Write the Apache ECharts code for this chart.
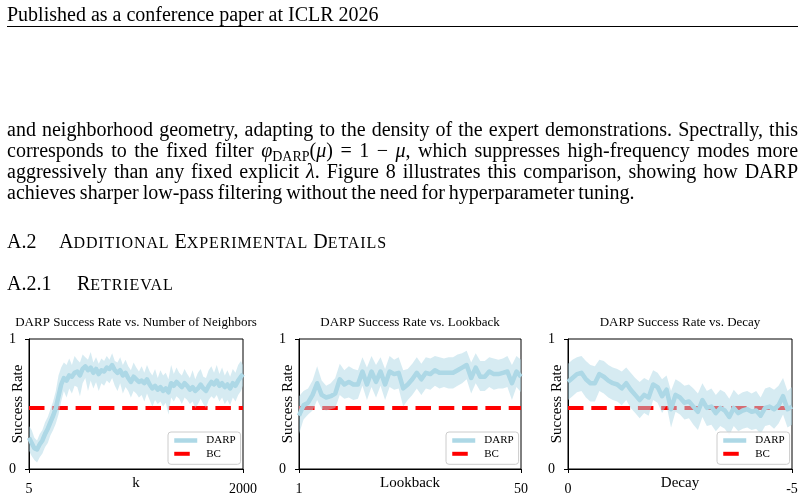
<!DOCTYPE html>
<html>
<head>
<meta charset="utf-8">
<script src="https://cdn.jsdelivr.net/npm/echarts@6/dist/echarts.min.js"></script>
<style>
  html, body { margin: 0; padding: 0; background: #fff; }
  body { width: 804px; height: 503px; position: relative; overflow: hidden; font-family: 'Liberation Serif', 'Times New Roman', serif; color: #000; }
  #chart { position: absolute; left: 0; top: 0; width: 804px; height: 503px; }
  .txt { position: absolute; z-index: 1; font-size: 20px; line-height: 20px; }
  .ln { left: 7px; width: 791px; text-align: justify; text-align-last: justify; word-spacing: -1px; }
  .last { text-align-last: left; }
  .sub { font-size: 14px; vertical-align: -4px; line-height: 0; }
  .sc { font-size: 16px; letter-spacing: 0.9px; }
  #rule { position: absolute; left: 7px; width: 791px; top: 26px; height: 0; border-top: 1px solid #000; }
</style>
</head>
<body>
<div id="chart"></div>
<div class="txt" style="left:7px; top:4px;">Published as a conference paper at ICLR 2026</div>
<div id="rule"></div>
<div class="txt ln" style="top:119px;">and neighborhood geometry, adapting to the density of the expert demonstrations. Spectrally, this</div>
<div class="txt ln" style="top:140px;">corresponds to the fixed filter <i>φ</i><span class="sub">DARP</span>(<i>μ</i>) = 1 − <i>μ</i>, which suppresses high-frequency modes more</div>
<div class="txt ln" style="top:161px;">aggressively than any fixed explicit <i>λ</i>. Figure 8 illustrates this comparison, showing how DARP</div>
<div class="txt ln last" style="top:182px;">achieves sharper low-pass filtering without the need for hyperparameter tuning.</div>
<div class="txt" style="left:7px; top:231px;">A.2</div>
<div class="txt" style="left:59px; top:231px;">A<span class="sc">DDITIONAL</span> E<span class="sc">XPERIMENTAL</span> D<span class="sc">ETAILS</span></div>
<div class="txt" style="left:7px; top:273px;">A.2.1</div>
<div class="txt" style="left:77px; top:273px;">R<span class="sc">ETRIEVAL</span></div>
<script>
// success rate vs. number of neighbors (k)
const kValues = [
  5, 30, 55, 80, 105, 130, 155, 180, 205, 230,
  255, 280, 305, 330, 355, 380, 405, 430, 455, 480,
  505, 530, 555, 580, 605, 630, 655, 680, 705, 730,
  755, 780, 805, 830, 855, 880, 905, 930, 955, 980,
  1005, 1030, 1055, 1080, 1105, 1130, 1155, 1180, 1205, 1230,
  1255, 1280, 1305, 1330, 1355, 1380, 1405, 1430, 1455, 1480,
  1505, 1530, 1555, 1580, 1605, 1630, 1655, 1680, 1705, 1730,
  1755, 1780, 1805, 1830, 1855, 1880, 1905, 1930, 1955, 1980,
  2000
];
const kMean = [
  0.24, 0.2, 0.16, 0.15, 0.19, 0.22, 0.27, 0.31, 0.36, 0.41,
  0.47, 0.56, 0.65, 0.70, 0.68, 0.72, 0.71, 0.74, 0.75, 0.72,
  0.77, 0.79, 0.76, 0.78, 0.74, 0.77, 0.73, 0.76, 0.75, 0.78,
  0.77, 0.80, 0.76, 0.74, 0.76, 0.72, 0.74, 0.70, 0.67, 0.71,
  0.69, 0.67, 0.68, 0.66, 0.69, 0.65, 0.62, 0.64, 0.61, 0.63,
  0.60, 0.62, 0.59, 0.66, 0.64, 0.67, 0.65, 0.63, 0.66, 0.64,
  0.61, 0.63, 0.60, 0.62, 0.65, 0.62, 0.60, 0.64, 0.67, 0.65,
  0.68, 0.64, 0.66, 0.63, 0.65, 0.62, 0.66, 0.64, 0.68, 0.71,
  0.73
];
const kUpper = [
  0.33, 0.3, 0.24, 0.22, 0.27, 0.3, 0.36, 0.4, 0.46, 0.52,
  0.6, 0.72, 0.78, 0.82, 0.8, 0.85, 0.8, 0.87, 0.84, 0.82,
  0.88, 0.86, 0.84, 0.9, 0.82, 0.86, 0.81, 0.85, 0.83, 0.87,
  0.84, 0.89, 0.83, 0.82, 0.86, 0.8, 0.84, 0.79, 0.76, 0.82,
  0.78, 0.75, 0.79, 0.74, 0.8, 0.75, 0.72, 0.77, 0.7, 0.76,
  0.72, 0.74, 0.69, 0.8, 0.73, 0.78, 0.74, 0.72, 0.77, 0.73,
  0.7, 0.76, 0.69, 0.74, 0.77, 0.71, 0.7, 0.76, 0.79, 0.74,
  0.8, 0.73, 0.78, 0.72, 0.76, 0.71, 0.77, 0.74, 0.8, 0.83,
  0.8
];
const kLower = [
  0.14, 0.1, 0.07, 0.05, 0.09, 0.12, 0.17, 0.2, 0.26, 0.3,
  0.35, 0.42, 0.52, 0.6, 0.55, 0.62, 0.58, 0.64, 0.63, 0.56,
  0.66, 0.7, 0.6, 0.68, 0.62, 0.67, 0.6, 0.66, 0.64, 0.68,
  0.66, 0.7, 0.64, 0.6, 0.66, 0.58, 0.63, 0.6, 0.55, 0.6,
  0.58, 0.55, 0.57, 0.52, 0.58, 0.53, 0.48, 0.53, 0.5, 0.52,
  0.48, 0.51, 0.42, 0.55, 0.52, 0.56, 0.54, 0.5, 0.55, 0.53,
  0.5, 0.52, 0.47, 0.5, 0.54, 0.5, 0.47, 0.53, 0.56, 0.54,
  0.57, 0.52, 0.55, 0.5, 0.53, 0.49, 0.55, 0.52, 0.57, 0.6,
  0.64
];

// success rate vs. lookback
const lookbackValues = [
  1, 2, 3, 4, 5, 6, 7, 8, 9, 10,
  11, 12, 13, 14, 15, 16, 17, 18, 19, 20,
  21, 22, 23, 24, 25, 26, 27, 28, 29, 30,
  31, 32, 33, 34, 35, 36, 37, 38, 39, 40,
  41, 42, 43, 44, 45, 46, 47, 48, 49, 50
];
const lookbackMean = [
  0.41, 0.49, 0.51, 0.57, 0.66, 0.57, 0.55, 0.56, 0.58, 0.69,
  0.65, 0.67, 0.65, 0.65, 0.75, 0.65, 0.75, 0.67, 0.75, 0.65,
  0.75, 0.73, 0.74, 0.62, 0.65, 0.69, 0.74, 0.69, 0.74, 0.73,
  0.76, 0.74, 0.74, 0.74, 0.74, 0.76, 0.78, 0.80, 0.70, 0.78,
  0.71, 0.71, 0.75, 0.73, 0.73, 0.74, 0.75, 0.66, 0.75, 0.71
];
const lookbackUpper = [
  0.56, 0.6, 0.62, 0.68, 0.79, 0.68, 0.64, 0.66, 0.7, 0.81,
  0.76, 0.79, 0.77, 0.76, 0.86, 0.78, 0.87, 0.8, 0.86, 0.77,
  0.87, 0.84, 0.86, 0.76, 0.77, 0.81, 0.86, 0.81, 0.86, 0.85,
  0.87, 0.86, 0.85, 0.86, 0.86, 0.88, 0.89, 0.91, 0.82, 0.89,
  0.83, 0.83, 0.86, 0.85, 0.84, 0.85, 0.87, 0.8, 0.87, 0.84
];
const lookbackLower = [
  0.27, 0.38, 0.42, 0.45, 0.53, 0.46, 0.45, 0.46, 0.47, 0.57,
  0.54, 0.55, 0.53, 0.54, 0.64, 0.53, 0.63, 0.55, 0.64, 0.53,
  0.63, 0.61, 0.62, 0.48, 0.53, 0.57, 0.62, 0.57, 0.62, 0.61,
  0.64, 0.62, 0.63, 0.62, 0.62, 0.64, 0.66, 0.69, 0.58, 0.66,
  0.6, 0.6, 0.63, 0.61, 0.62, 0.62, 0.63, 0.53, 0.63, 0.59
];

// success rate vs. decay
const decayValues = [
  0, -0.1, -0.2, -0.3, -0.4, -0.5, -0.6, -0.7, -0.8, -0.9,
  -1.0, -1.1, -1.2, -1.3, -1.4, -1.5, -1.6, -1.7, -1.8, -1.9,
  -2.0, -2.1, -2.2, -2.3, -2.4, -2.5, -2.6, -2.7, -2.8, -2.9,
  -3.0, -3.1, -3.2, -3.3, -3.4, -3.5, -3.6, -3.7, -3.8, -3.9,
  -4.0, -4.1, -4.2, -4.3, -4.4, -4.5, -4.6, -4.7, -4.8, -4.9,
  -5.0
];
const decayMean = [
  0.67, 0.70, 0.73, 0.74, 0.69, 0.66, 0.66, 0.73, 0.71, 0.68,
  0.66, 0.65, 0.62, 0.66, 0.61, 0.57, 0.53, 0.57, 0.55, 0.65,
  0.63, 0.56, 0.61, 0.46, 0.57, 0.55, 0.51, 0.52, 0.48, 0.44,
  0.53, 0.47, 0.48, 0.43, 0.47, 0.45, 0.40, 0.47, 0.43, 0.45,
  0.46, 0.44, 0.45, 0.41, 0.47, 0.48, 0.46, 0.49, 0.56, 0.46,
  0.48
];
const decayUpper = [
  0.81, 0.84, 0.86, 0.87, 0.83, 0.8, 0.79, 0.84, 0.83, 0.8,
  0.78, 0.77, 0.75, 0.78, 0.74, 0.7, 0.67, 0.7, 0.68, 0.76,
  0.74, 0.69, 0.72, 0.6, 0.69, 0.67, 0.64, 0.65, 0.62, 0.58,
  0.66, 0.6, 0.62, 0.57, 0.61, 0.59, 0.54, 0.61, 0.57, 0.59,
  0.6, 0.58, 0.6, 0.55, 0.62, 0.63, 0.61, 0.64, 0.7, 0.6,
  0.63
];
const decayLower = [
  0.53, 0.56, 0.59, 0.6, 0.55, 0.52, 0.52, 0.6, 0.58, 0.55,
  0.53, 0.52, 0.49, 0.53, 0.47, 0.43, 0.39, 0.43, 0.41, 0.53,
  0.51, 0.43, 0.49, 0.32, 0.44, 0.42, 0.38, 0.39, 0.34, 0.3,
  0.4, 0.33, 0.34, 0.29, 0.33, 0.31, 0.26, 0.33, 0.29, 0.31,
  0.32, 0.3, 0.31, 0.27, 0.33, 0.34, 0.31, 0.35, 0.42, 0.32,
  0.34
];

const bcRate = 0.47;

const titles = [
  'DARP Success Rate vs. Number of Neighbors',
  'DARP Success Rate vs. Lookback',
  'DARP Success Rate vs. Decay'
];
const xNames = ['k', 'Lookback', 'Decay'];
const xTickValues = [[5, 2000], [1, 50], [0, -5]];

const serif = "'Liberation Serif', 'Times New Roman', serif";
const darpColor = '#add8e6';
const bandColor = 'rgba(173, 216, 230, 0.5)';

// plot boxes
const boxes = [
  { left: 29, width: 214 },
  { left: 299, width: 222 },
  { left: 568, width: 224 }
];
const plotTop = 339;
const plotHeight = 130;

function seriesFor(idx, xs, mean, lower, upper) {
  const axes = { xAxisIndex: idx, yAxisIndex: idx };
  return [
    {
      ...axes, name: 'BC', type: 'line', symbol: 'none', silent: true, zlevel: 0,
      data: [[xs[0], bcRate], [xs[xs.length - 1], bcRate]],
      itemStyle: { color: '#ff0000' },
      lineStyle: { color: '#ff0000', width: 4, type: [15.5, 7.8] }
    },
    {
      // shaded band between lower and upper, on a layer above the BC line
      ...axes, name: 'band' + idx, type: 'custom', silent: true, zlevel: 1, z: 1,
      data: xs.map((x, i) => [x, lower[i], upper[i]]),
      encode: { x: 0, y: [1, 2] },
      renderItem: (params, api) => {
        if (params.dataIndex !== 0) return;
        const pts = [];
        for (let i = 0; i < xs.length; i++) pts.push(api.coord([xs[i], upper[i]]));
        for (let i = xs.length - 1; i >= 0; i--) pts.push(api.coord([xs[i], lower[i]]));
        return { type: 'polygon', shape: { points: pts }, style: { fill: bandColor } };
      }
    },
    {
      ...axes, name: 'DARP', type: 'line', symbol: 'none', silent: true, zlevel: 1, z: 3,
      data: xs.map((x, i) => [x, mean[i]]),
      itemStyle: { color: darpColor },
      lineStyle: { color: darpColor, width: 4.5, join: 'round' }
    }
  ];
}

const chart = echarts.init(document.getElementById('chart'));

const option = {
  animation: false,
  grid: boxes.map(b => ({
    left: b.left, top: plotTop, width: b.width, height: plotHeight,
    show: true, borderColor: '#000', borderWidth: 1,
    backgroundColor: 'transparent',
    outerBoundsMode: 'none'
  })),
  xAxis: boxes.map((b, i) => {
    const ticks = xTickValues[i];
    return {
      type: 'value', gridIndex: i,
      min: Math.min(...ticks), max: Math.max(...ticks),
      inverse: ticks[0] > ticks[1],
      name: xNames[i], nameLocation: 'middle', nameGap: 7,
      nameMoveOverlap: false,
      nameTextStyle: { fontFamily: serif, fontSize: 15, color: '#000', verticalAlign: 'top' },
      axisLine: { lineStyle: { color: '#000', width: 1 } },
      axisTick: { length: 4, customValues: ticks, lineStyle: { color: '#000' } },
      axisLabel: {
        customValues: ticks, margin: 13, fontFamily: serif, fontSize: 14, color: '#000',
        formatter: v => String(v)
      },
      splitLine: { show: false }
    };
  }),
  yAxis: boxes.map((b, i) => ({
    type: 'value', gridIndex: i, min: 0, max: 1, interval: 1,
    name: 'Success Rate', nameLocation: 'middle', nameGap: 3,
    nameMoveOverlap: false,
    nameTextStyle: { fontFamily: serif, fontSize: 15, color: '#000' },
    axisLine: { show: true, lineStyle: { color: '#000', width: 1 } },
    axisTick: { show: true, length: 4, lineStyle: { color: '#000' } },
    axisLabel: { margin: 13, fontFamily: serif, fontSize: 14, color: '#000' },
    splitLine: { show: false }
  })),
  legend: boxes.map(b => ({
    left: b.left + b.width - 75, top: 432,
    zlevel: 2,
    orient: 'vertical',
    data: ['DARP', 'BC'],
    selectedMode: false,
    itemWidth: 23, itemHeight: 11, itemGap: 2.3,
    padding: [3, 5, 5, 4],
    backgroundColor: 'rgba(255,255,255,0.8)',
    borderColor: '#cccccc', borderWidth: 1, borderRadius: 3,
    lineStyle: { width: 'inherit' },
    itemStyle: { opacity: 0 },
    textStyle: { fontFamily: serif, fontSize: 11, lineHeight: 11, color: '#000', padding: [0, 0, 0, 4] }
  })),
  graphic: titles.map((t, i) => ({
    type: 'text',
    x: boxes[i].left + boxes[i].width / 2,
    y: 322.7,
    style: { text: t, fontFamily: serif, fontSize: 13, fill: '#000', align: 'center', verticalAlign: 'middle' }
  })),
  series: [
    ...seriesFor(0, kValues, kMean, kLower, kUpper),
    ...seriesFor(1, lookbackValues, lookbackMean, lookbackLower, lookbackUpper),
    ...seriesFor(2, decayValues, decayMean, decayLower, decayUpper)
  ]
};

chart.setOption(option);
</script>
</body>
</html>
